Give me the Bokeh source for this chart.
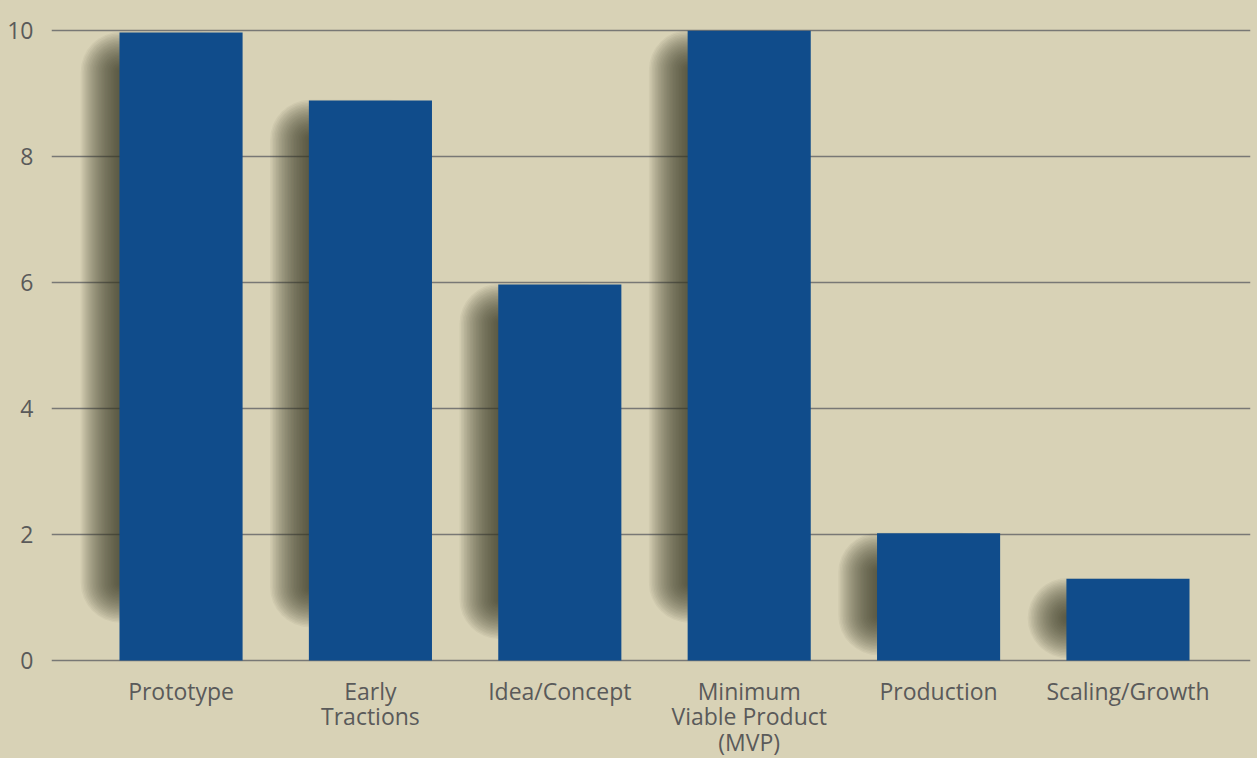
import numpy as np
from bokeh.plotting import figure
from bokeh.models import Range1d, FixedTicker, ColumnDataSource
from bokeh.embed import file_html
from bokeh.resources import INLINE

categories = ["Prototype", "Early\nTractions", "Idea/Concept",
              "Minimum\nViable Product\n(MVP)", "Production", "Scaling/Growth"]
values = [9.97, 8.89, 5.97, 10.0, 2.02, 1.3]
y_ticks = [0, 2, 4, 6, 8, 10]

BG = "#d8d2b6"
BAR = "#104c8b"
TXT = "#5a5a5a"
GRID = "#6e6e6e"
SHADOW = "#3a3828"
FONT = "Open Sans"

n = len(categories)
xs = np.arange(n, dtype=float)
vals = np.array(values)

p = figure(frame_width=1199, frame_height=634, output_backend="svg", toolbar_location=None,
           x_range=Range1d(-0.684, n - 1 + 0.647), y_range=Range1d(-0.03, 10.035),
           min_border_top=28, min_border_right=7, min_border_left=51, min_border_bottom=96)
p.background_fill_color = BG
p.border_fill_color = BG
p.outline_line_color = None

# pixel -> data conversion (approx.)
px_x = 1.0 / 189.4
px_y = 1.0 / 63.0
bw = 0.65

# soft shadow built from stacked translucent rounded rectangles
N = 26
a = 1 - 0.25 ** (1.0 / N)
dx = 20 * px_x
sh_left = xs - bw / 2 - dx
sh_right = xs + bw / 2 - dx
sh_top = vals - 18 * px_y
sh_bot = 0.25 + 0.065 * vals
for k in range(N):
    e = (k - (N - 1) / 2) * 1.5  # px expansion
    p.quad(left=sh_left - e * px_x, right=sh_right + e * px_x,
           top=sh_top + e * px_y, bottom=sh_bot - e * px_y,
           fill_color=SHADOW, fill_alpha=a, line_color=None,
           border_radius=int(round(max(2.0, e + 21.0))))

src = ColumnDataSource(dict(x=xs, top=vals))
p.vbar(x="x", top="top", width=bw, bottom=0, source=src,
       fill_color=BAR, line_color=None)

# grid
p.xgrid.grid_line_color = None
p.ygrid.ticker = FixedTicker(ticks=y_ticks)
p.ygrid.grid_line_color = GRID
p.ygrid.grid_line_width = 1.3
p.ygrid.level = "underlay"
p.ygrid.grid_line_alpha = 0.9

# y axis
ya = p.yaxis[0]
ya.ticker = FixedTicker(ticks=y_ticks)
ya.axis_line_color = None
ya.major_tick_line_color = None
ya.minor_tick_line_color = None
ya.major_label_text_font = FONT
ya.major_label_text_font_size = "23px"
ya.major_label_text_color = TXT
ya.major_label_text_baseline = "alphabetic"
ya.major_label_standoff = 12

# x axis
xa = p.xaxis[0]
xa.ticker = FixedTicker(ticks=list(xs))
xa.major_label_overrides = {i: c for i, c in enumerate(categories)}
xa.axis_line_color = None
xa.major_tick_line_color = None
xa.minor_tick_line_color = None
xa.major_label_text_font = FONT
xa.major_label_text_font_size = "23px"
xa.major_label_text_color = TXT
xa.major_label_standoff = 6
xa.major_label_text_line_height = 0.8

html = file_html(p, INLINE)
html = html.replace("<body>", '<body style="background:%s">' % BG)
open("out.html", "w").write(html)
